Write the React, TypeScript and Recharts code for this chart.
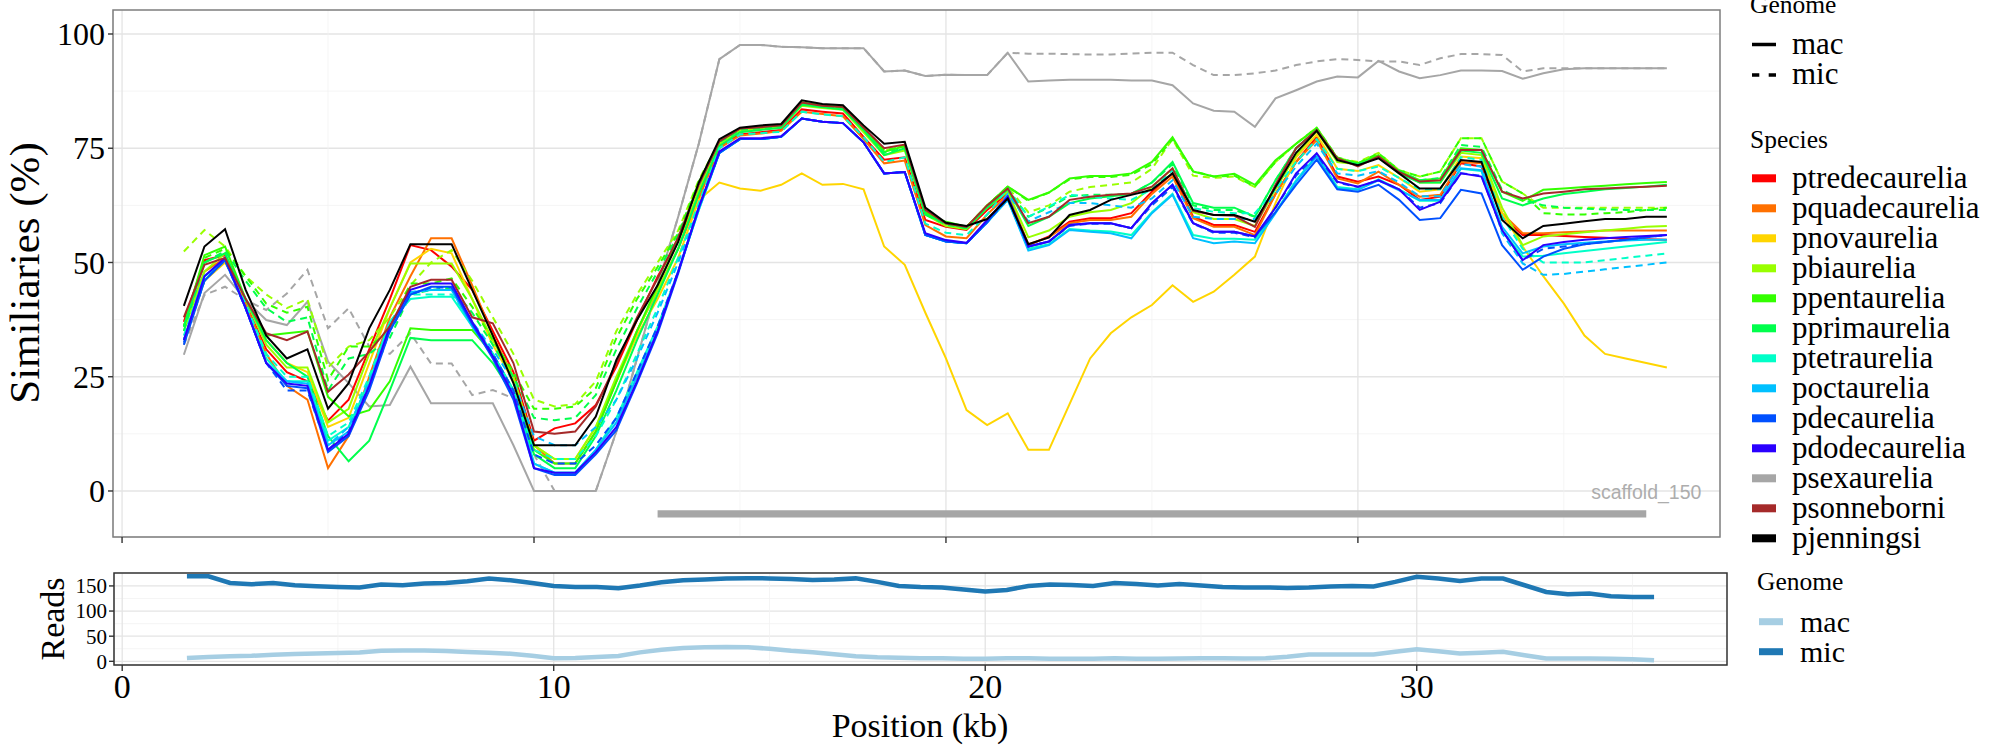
import React from "react";
import {
  LineChart,
  Line,
  XAxis,
  YAxis,
  CartesianGrid,
  ReferenceArea,
  ReferenceLine,
  ReferenceDot,
} from "recharts";

const FONT = "'Liberation Serif', 'Times New Roman', serif";

// window centres (kb)
const positions = [
  1.5, 2, 2.5, 3, 3.5, 4, 4.5, 5, 5.5, 6, 6.5, 7, 7.5, 8, 8.5, 9, 9.5, 10, 10.5, 11,
  11.5, 12, 12.5, 13, 13.5, 14, 14.5, 15, 15.5, 16, 16.5, 17, 17.5, 18, 18.5, 19, 19.5, 20, 20.5, 21,
  21.5, 22, 22.5, 23, 23.5, 24, 24.5, 25, 25.5, 26, 26.5, 27, 27.5, 28, 28.5, 29, 29.5, 30, 30.5, 31,
  31.5, 32, 32.5, 33, 33.5, 34, 34.5, 35, 35.5, 36, 36.5, 37, 37.5,
];
const readPositions = [
  1.5, 2, 2.5, 3, 3.5, 4, 4.5, 5, 5.5, 6, 6.5, 7, 7.5, 8, 8.5, 9, 9.5, 10, 10.5, 11,
  11.5, 12, 12.5, 13, 13.5, 14, 14.5, 15, 15.5, 16, 16.5, 17, 17.5, 18, 18.5, 19, 19.5, 20, 20.5, 21,
  21.5, 22, 22.5, 23, 23.5, 24, 24.5, 25, 25.5, 26, 26.5, 27, 27.5, 28, 28.5, 29, 29.5, 30, 30.5, 31,
  31.5, 32, 32.5, 33, 33.5, 34, 34.5, 35, 35.5,
];

// similarity (%) - mac genome
const ptredecaureliaMac = [
  37, 50.5, 51.6, 41, 31, 26, 24, 15.4, 20, 31,
  42, 53.8, 52.7, 49.1, 44, 35, 26, 11, 13.7, 14.8,
  18.8, 27.2, 37.4, 46.9, 54.9, 65, 75.5, 78, 78.5, 79,
  83.5, 83, 82.6, 77.5, 72.5, 73, 59.3, 57.8, 57.1, 61.5,
  65.1, 53.8, 55.7, 58.9, 59.7, 59.7, 60.8, 65.5, 69.5, 60,
  58.2, 58.2, 56.7, 65, 72, 77.5, 68.8, 67.7, 68.8, 67,
  63.7, 64.4, 71.7, 71, 60, 56, 56, 55.8, 55.6, 55.4,
  55.2, 55.1, 55,
];
const pquadecaureliaMac = [
  36, 48, 51, 41, 30, 23, 20, 5, 12, 25,
  38, 47, 55.3, 55.3, 45, 34, 25, 10, 6, 6,
  13, 24, 35, 44, 53, 64, 75, 77.8, 78.2, 78.8,
  83, 82.5, 82, 77, 71.7, 72.3, 58.2, 55.7, 55.3, 60.5,
  64.8, 54, 55.5, 58.6, 59.3, 59.3, 60, 65, 68.8, 59.7,
  57.8, 57.8, 56, 65, 72, 76.8, 68.4, 67.3, 69.9, 67,
  64.4, 64.8, 72, 71.7, 60.8, 56.4, 56.4, 56.6, 56.8, 57,
  57, 57, 57,
];
const pnovaureliaMac = [
  33, 46, 50, 42, 33, 28, 26, 14, 16, 28,
  40, 50, 53, 52, 42, 32, 24, 10, 7, 7,
  14, 24, 34, 42, 51, 63.7, 67.5, 66.2, 65.7, 67,
  69.5, 67, 67.2, 66, 53.5, 49.5, 39, 29, 17.7, 14.4,
  17, 9, 9, 19, 29, 34.5, 38, 40.7, 45, 41.4,
  43.6, 47.3, 51.3, 63, 73, 78, 70.5, 70, 71.3, 68.5,
  65.5, 66, 73.2, 72.8, 60.8, 53.5, 47, 41, 34, 30,
  29, 28, 27,
];
const pbiaureliaMac = [
  35, 48, 52, 42, 32, 27, 27, 15, 18, 30,
  40, 49.8, 49.8, 49.8, 42, 33, 25, 10, 7, 7,
  14, 25, 35, 44, 53, 66, 76, 78.8, 79.2, 79.6,
  84.3, 83.8, 83.4, 78.5, 73.5, 74.5, 60.5, 58, 57.3, 62,
  65.5, 55.5, 57, 60, 61, 61.5, 63, 66.5, 70.5, 61,
  59.5, 59.5, 58, 66, 73.5, 78.8, 72, 71.5, 73, 69.8,
  67.5, 67.5, 74, 73.5, 62, 53.8, 55.7, 56.2, 56.6, 57,
  57.4, 57.8, 58,
];
const ppentaureliaMac = [
  36, 51.6, 53.5, 42, 34, 34.5, 35, 20.6, 16.3, 17.7,
  24, 35.6, 35.2, 35.2, 35.2, 30, 22, 9, 6, 6,
  13, 24, 35, 45, 55, 67.5, 76.5, 79.3, 79.6, 80,
  85, 84.4, 84, 79.5, 74.2, 75.5, 60.8, 58.9, 57.8, 62.5,
  66.6, 63.7, 65.3, 68.4, 68.9, 68.9, 69.5, 72, 77.4, 69.9,
  68.8, 69.4, 67, 72.4, 76, 79.4, 72.8, 71.7, 73.5, 70,
  68, 68.4, 75, 74.6, 65.5, 63.5, 65.9, 66.2, 66.5, 66.8,
  67.1, 67.4, 67.6,
];
const pprimaureliaMac = [
  36, 50, 52, 42, 33, 28, 25, 12, 6.5, 11,
  22, 33.5, 33, 33, 33, 28, 21, 8, 5, 5,
  12, 22, 33, 43, 53, 65, 75.5, 78.5, 79, 79.5,
  84.5, 84, 83.5, 79, 73.5, 75, 60.5, 58.5, 57.5, 62,
  66, 58, 60, 63, 64, 64.5, 65, 67.5, 72, 63,
  62, 62, 60, 68, 75, 79, 72.5, 71.5, 73, 69.5,
  67.5, 67.5, 74.5, 74, 64, 62.5, 64, 65, 65.5, 66,
  66.3, 66.6, 67,
];
const ptetraureliaMac = [
  33, 46, 51, 40, 29, 24, 24, 11, 14, 24,
  37, 42, 42.5, 42.5, 36, 30, 22, 6, 4, 4,
  9, 16, 26, 36, 48, 61.5, 74, 77, 77, 77.5,
  81.5, 80.8, 80.5, 76.3, 69.5, 69.8, 56, 54.6, 54.2, 58.8,
  63.7, 53, 54, 57.3, 57, 56.8, 56, 61, 65, 56,
  55.2, 55.2, 55, 61, 68, 73.5, 66.5, 66, 68.2, 66,
  63.5, 63.5, 70.5, 70, 57, 51.3, 51.5, 52, 52.5, 53,
  53.5, 54, 54.5,
];
const poctaureliaMac = [
  33, 47, 50.5, 40, 28, 24, 23.5, 10, 13, 23,
  36, 43.5, 44, 44, 36, 29.5, 21, 6, 4, 4,
  9, 15, 25, 35, 48, 61.5, 74, 77, 77, 77.5,
  81.5, 80.8, 80.5, 76.3, 69.5, 69.8, 56, 54.6, 54.2, 58.8,
  63.7, 52.6, 53.8, 57.1, 56.7, 56.4, 55.3, 60.8, 64.8, 55.3,
  54.2, 54.6, 54.2, 60.8, 67.7, 73.2, 66.2, 65.9, 68, 65.8,
  63.7, 63.7, 70.6, 70.2, 57.8, 52, 53.5, 54, 54.3, 54.6,
  54.8, 55, 55,
];
const pdecaureliaMac = [
  32, 46, 50.5, 40, 28, 23, 22.5, 8.5, 12, 22,
  35, 43, 44.7, 44.7, 36.5, 29, 20, 5, 3.5, 3.5,
  8, 13.3, 23.6, 34.5, 47.6, 62, 74, 77, 77, 77.5,
  81.5, 80.8, 80.5, 76.3, 69.5, 69.8, 56, 54.6, 54.2, 58.8,
  64.4, 53.5, 54.6, 58.2, 58.6, 58.6, 57.5, 63, 67, 58.6,
  56.7, 56.7, 55.7, 61, 67, 72.5, 66, 65.5, 67, 63.7,
  59.3, 59.7, 65.9, 65.1, 53.8, 48.4, 51.3, 53, 54, 54.5,
  55, 55.5, 56,
];
const pdodecaureliaMac = [
  33, 47, 51, 40, 28, 23.5, 23, 9, 12.5, 23,
  36, 44, 45.4, 45.4, 37, 29.5, 21, 5, 4, 4,
  8.5, 14, 24, 35, 48, 62, 74.3, 77.2, 77.2, 77.6,
  81.5, 80.8, 80.5, 76.3, 69.5, 69.8, 56.4, 54.9, 54.3, 59.3,
  64.4, 53.5, 54.6, 58.2, 58.6, 58.6, 57.5, 63, 67, 58.6,
  56.7, 56.7, 55.7, 62, 69.5, 73.9, 67.7, 66.6, 68, 66,
  61.5, 63.3, 69.5, 68.8, 57.1, 50.5, 53.8, 54.5, 55, 55.3,
  55.6, 55.8, 56,
];
const psexaureliaMac = [
  29.8, 43.3, 47.3, 41.8, 37.4, 36.3, 41.4, 28.3, 23.6, 18.5,
  18.8, 27.2, 19.2, 19.2, 19.2, 19.2, 10, 0, 0, 0,
  0, 13, 29, 45, 60, 76, 94.5, 97.6, 97.6, 97.2,
  97.1, 96.9, 96.9, 96.9, 91.8, 92, 90.8, 91.1, 91, 91,
  95.9, 89.6, 89.8, 90, 90, 90, 89.8, 89.8, 88.8, 84.8,
  83.2, 83, 79.7, 85.9, 87.7, 89.6, 90.7, 90.5, 94.1, 91.8,
  90.3, 91, 92, 92, 91.9, 90.2, 91.4, 92.3, 92.5, 92.5,
  92.5, 92.5, 92.5,
];
const psonneborniMac = [
  38, 49.5, 51, 42, 34.5, 33, 34.9, 21.7, 25.5, 30.5,
  36, 44.7, 46.2, 46.2, 38, 36.7, 28, 13, 12.5, 13,
  18.5, 28, 38, 46.5, 55.5, 67, 76.5, 79.3, 79.6, 80,
  85, 84.3, 84, 79.5, 75, 75.8, 61.5, 58.5, 57.8, 62.5,
  66.2, 58.6, 60, 63.7, 64.4, 64.8, 65.1, 66.6, 70.6, 61.3,
  60.4, 60.2, 57.8, 67, 75, 79, 72.8, 71, 73.2, 69.8,
  67.7, 68, 74.6, 74.6, 65.5, 64, 65.1, 65.5, 66, 66.2,
  66.4, 66.6, 66.8,
];
const pjenningsiMac = [
  40.5, 53.5, 57.3, 44, 34, 29, 31, 18, 23.6, 35.6,
  44, 54, 54, 54, 44, 34, 23.6, 10, 10, 10,
  16.3, 28.7, 37.4, 45, 54.5, 67.5, 77, 79.5, 80, 80.3,
  85.5, 84.7, 84.4, 80, 76, 76.4, 62, 58.7, 58, 59.5,
  64, 54, 55.5, 60.4, 61.5, 63.7, 64.8, 65.9, 69.5, 61.5,
  60.4, 60.4, 58.9, 66.5, 74, 78.8, 72.4, 71.3, 72.8, 69.5,
  66.2, 66.2, 72.4, 72, 59.3, 55.3, 58, 58.5, 59, 59.5,
  59.5, 60, 60,
];

// similarity (%) - mic genome
const pbiaureliaMic = [
  52.4, 57.1, 53.5, 47, 43, 40, 42, 27, 31.6, 33,
  38, 45, 50, 52.7, 46, 38, 30, 20, 18.5, 19,
  24, 35, 43, 50, 57, 68, 76.5, 79.3, 79.6, 80,
  85, 84.3, 84, 79.3, 74.5, 75.5, 61, 58.5, 57.8, 62.5,
  66.5, 61, 62.5, 65.5, 66.5, 67, 67.5, 70.5, 77, 69,
  68.5, 68.8, 66.5, 72, 76, 79.5, 72.8, 72, 74, 70.2,
  68.8, 69.9, 77.2, 77.2, 67.7, 65.1, 62, 62, 62, 62,
  62, 62, 62,
];
const ppentaureliaMic = [
  36, 51, 53, 47, 41, 39, 40.3, 24.3, 31.6, 31.6,
  35.2, 45.4, 45.4, 46.5, 40.3, 33, 26, 18, 18, 18.5,
  22.5, 33.5, 42, 49, 56.4, 67.7, 76.5, 79.3, 79.6, 80,
  85, 84.3, 84, 79.5, 74.5, 75.5, 61, 58.7, 57.8, 62.5,
  66.6, 63.5, 65.3, 68.2, 68.7, 68.7, 69.2, 71.5, 77, 70,
  68.8, 69, 66.6, 72, 76, 79.5, 73, 71.7, 73.9, 70.2,
  68.8, 69.9, 77.2, 77.2, 67.7, 65.1, 60.8, 60.5, 60.5, 60.8,
  61, 61.5, 62,
];
const pprimaureliaMic = [
  35, 50, 52.5, 46, 40, 37, 38, 22, 29, 30,
  33.5, 43, 44, 44.5, 39, 32, 25, 16, 15.5, 16,
  21, 31, 40, 48, 56, 67, 76.3, 79, 79.4, 79.8,
  84.7, 84, 83.7, 79, 74, 75, 60.5, 58.3, 57.5, 62,
  66, 60, 62, 64.5, 64.8, 64.8, 65, 67.5, 71.5, 62.5,
  61.5, 61.5, 60, 68, 75, 79, 72.5, 71.5, 73, 70,
  68, 68.5, 75.7, 75.3, 65.9, 63.7, 62.5, 62, 61.8, 61.6,
  61.5, 61.5, 61.5,
];
const ptetraureliaMic = [
  34, 47, 51, 41, 30, 25, 25, 12, 15, 25,
  37, 43, 43, 43, 37, 30, 22, 9, 7, 7,
  12, 20, 30, 40, 51, 63, 75, 78, 78.3, 78.6,
  83, 82.4, 82, 77.5, 72, 73, 58.5, 56.5, 56, 60.5,
  66.2, 60, 62.2, 64.8, 64.4, 64, 63.7, 66, 70.2, 61.9,
  61.1, 60.8, 60.8, 66, 72, 77, 70.5, 70, 71, 68.5,
  66, 66, 73, 72.5, 60, 53, 50, 50, 50, 50.5,
  51, 51.5, 52,
];
const poctaureliaMic = [
  33, 47, 50.5, 40, 28, 24, 23.5, 10, 14, 24,
  36, 43.5, 44, 44, 37, 31, 24, 12, 10, 10,
  14, 20, 29, 39, 50, 62, 74, 77, 77, 77.5,
  81.5, 80.8, 80.5, 76.3, 69.5, 69.8, 56, 54.6, 54.2, 58.8,
  65, 59, 61, 63, 63, 62.5, 62, 64, 68, 60,
  59.5, 59.5, 59.5, 65, 71, 76, 69.5, 69, 70, 67.5,
  64.5, 64.5, 71.5, 71, 56.4, 49.8, 47.3, 47.5, 48, 48.5,
  49, 49.5, 50,
];
const pdecaureliaMic = [
  32.5, 46, 50.5, 40, 28, 22, 22, 9, 13, 23,
  35, 43, 44.5, 44.5, 37, 30, 22, 8, 6, 6,
  10, 16, 26, 36, 48, 62, 74, 77, 77, 77.5,
  81.5, 80.8, 80.5, 76.3, 69.5, 69.8, 56, 54.6, 54.2, 58.8,
  64, 53.5, 54.6, 58, 58.5, 58.5, 57.5, 62.5, 66.5, 58.5,
  56.5, 56.5, 55.5, 62, 69, 73.5, 67.5, 66.5, 68, 66,
  62, 63, 69.5, 69, 57, 50.5, 53, 53.5, 54, 54.5,
  55, 55.5, 56,
];
const psexaureliaMic = [
  32, 42.9, 44.7, 41.8, 39.6, 43.2, 48.4, 35.6, 40, 31.6,
  30, 34.5, 27.9, 27.9, 21, 22.1, 20.3, 8, 0, 0,
  0, 13, 29, 45, 60, 76, 94.5, 97.6, 97.6, 97.2,
  97.1, 96.9, 96.9, 96.9, 91.8, 92, 90.8, 91.1, 91, 91,
  95.9, 95.7, 95.7, 95.6, 95.5, 95.5, 95.7, 95.9, 95.9, 93.2,
  91, 91, 91.4, 92, 93.2, 94, 94.5, 94.3, 94, 94,
  93.2, 94.7, 95.6, 95.6, 95.4, 91.8, 92.5, 92.5, 92.5, 92.5,
  92.5, 92.5, 92.5,
];

// read depth
const readsMac = [
  6.6, 8.5, 10, 11, 13, 14.5, 15.8, 16.5, 17.8, 21,
  21.7, 21.7, 20.4, 18.4, 17.1, 15.1, 11.2, 6, 6.6, 8.5,
  10.5, 17.8, 23, 26.3, 28, 28.5, 28, 25, 21, 18,
  14, 10, 8, 7, 6, 6, 5, 5, 6, 6,
  5, 5, 5, 6, 5, 5, 5.5, 6, 6, 5.5,
  6, 9, 13.6, 13.6, 13.6, 13.6, 19, 24.2, 20, 15.6,
  17, 18.9, 12, 5.6, 5.6, 5.6, 5, 4.3, 2.3,
];
const readsMic = [
  169, 169, 156, 153.3, 156, 151.3, 149.3, 148, 146.7, 152.6,
  151.3, 154.6, 156, 159.2, 164.5, 161.2, 156, 150, 148, 148,
  145.4, 150.7, 157.2, 161.2, 163, 165, 165.5, 165, 164, 162,
  163, 165, 158, 150, 148, 147, 143, 139, 142, 150,
  153, 152, 150, 156, 154, 151, 154, 151, 148, 147,
  147, 146, 147, 149, 150, 149, 158, 168, 164.6, 160,
  164.6, 164.6, 151.3, 138, 133.4, 134.8, 129.5, 128.1, 128.1,
];

const species = [
  "ptredecaurelia", "pquadecaurelia", "pnovaurelia", "pbiaurelia", "ppentaurelia",
  "pprimaurelia", "ptetraurelia", "poctaurelia", "pdecaurelia", "pdodecaurelia",
  "psexaurelia", "psonneborni", "pjenningsi",
];
const speciesColors = [
  "#FF0000", "#FF7000", "#FFD500", "#99FF00", "#33FF00",
  "#00FF4C", "#00FFC8", "#00C0FF", "#0050FF", "#2A00FF",
  "#A6A6A6", "#A52A2A", "#000000",
];
const macValues = [
  ptredecaureliaMac, pquadecaureliaMac, pnovaureliaMac, pbiaureliaMac, ppentaureliaMac,
  pprimaureliaMac, ptetraureliaMac, poctaureliaMac, pdecaureliaMac, pdodecaureliaMac,
  psexaureliaMac, psonneborniMac, pjenningsiMac,
];
const micValues: (number[] | null)[] = [
  null, null, null, pbiaureliaMic, ppentaureliaMic,
  pprimaureliaMic, ptetraureliaMic, poctaureliaMic, pdecaureliaMic, null,
  psexaureliaMic, null, null,
];
const drawOrder = [10, 0, 1, 2, 3, 4, 5, 6, 7, 8, 9, 11, 12];

const topXTicks = [0, 5, 10, 15, 20, 25, 30, 35];
const topYTicks = [0, 12.5, 25, 37.5, 50, 62.5, 75, 87.5, 100];
const readYTicks = [0, 25, 50, 75, 100, 125, 150];

const scaffoldStart = 13;
const scaffoldEnd = 37;
const scaffoldY = -5;
const scaffoldLabelY = -0.3;

const topX: [number, number] = [-0.22, 38.79];
const topY: [number, number] = [-10.07, 105.25];
const readX: [number, number] = [-0.19, 37.19];
const readY: [number, number] = [-7.3, 175.7];

type Series = { key: string; color: string; dashed: boolean; values: number[] };
const topSeries: Series[] = [];
drawOrder.forEach((k) => {
  const mic = micValues[k];
  if (mic) topSeries.push({ key: species[k] + "_mic", color: speciesColors[k], dashed: true, values: mic });
  topSeries.push({ key: species[k] + "_mac", color: speciesColors[k], dashed: false, values: macValues[k] });
});

const topRows = positions.map((x, i) => {
  const row: Record<string, number> = { x };
  topSeries.forEach((s) => {
    row[s.key] = s.values[i];
  });
  return row;
});
const readRows = readPositions.map((x, i) => ({ x, mac: readsMac[i], mic: readsMic[i] }));

const gridLine = (props: any) => {
  const { x1, y1, x2, y2, index } = props;
  const major = index % 2 === 0;
  return (
    <line
      key={`grid-${x1}-${y1}-${index}`}
      x1={x1}
      y1={y1}
      x2={x2}
      y2={y2}
      stroke={major ? "#E4E4E4" : "#F2F2F2"}
      strokeWidth={major ? 1.3 : 0.8}
    />
  );
};

const topXTick = (props: any) => {
  const { x, y, payload } = props;
  if (payload.value % 10 !== 0) return <g />;
  return <line x1={x} y1={y} x2={x} y2={y + 6} stroke="#333" strokeWidth={1.4} />;
};

const topYTick = (props: any) => {
  const { x, y, payload } = props;
  if (payload.value % 25 !== 0) return <g />;
  return (
    <g>
      <line x1={x - 5} y1={y} x2={x} y2={y} stroke="#333" strokeWidth={1.4} />
      <text x={x - 8} y={y} dy="0.35em" textAnchor="end" fontSize={32} fontFamily={FONT} fill="#000">
        {payload.value}
      </text>
    </g>
  );
};

const readXTick = (props: any) => {
  const { x, y, payload } = props;
  if (payload.value % 10 !== 0) return <g />;
  return (
    <g>
      <line x1={x} y1={y} x2={x} y2={y + 6} stroke="#333" strokeWidth={1.4} />
      <text x={x} y={y + 9} dy="0.71em" textAnchor="middle" fontSize={34} fontFamily={FONT} fill="#000">
        {payload.value}
      </text>
    </g>
  );
};

const readYTick = (props: any) => {
  const { x, y, payload } = props;
  if (payload.value % 50 !== 0) return <g />;
  return (
    <g>
      <line x1={x - 5} y1={y} x2={x} y2={y} stroke="#333" strokeWidth={1.4} />
      <text x={x - 7} y={y} dy="0.35em" textAnchor="end" fontSize={21} fontFamily={FONT} fill="#000">
        {payload.value}
      </text>
    </g>
  );
};

export default function App() {
  return (
    <div style={{ position: "absolute", left: 0, top: 0, width: 2000, height: 750, background: "#fff", overflow: "hidden" }}>
      <div style={{ position: "absolute", left: 0, top: 0 }}>
        <LineChart width={1730} height={545} data={topRows} margin={{ top: 10, right: 10, bottom: 0, left: 0 }}>
          <CartesianGrid horizontal={gridLine} vertical={gridLine} />
          <XAxis
            type="number"
            dataKey="x"
            domain={topX}
            ticks={topXTicks}
            interval={0}
            allowDataOverflow
            height={8}
            axisLine={false}
            tickLine={false}
            tickSize={0}
            tickMargin={0}
            tick={topXTick}
          />
          <YAxis
            type="number"
            domain={topY}
            ticks={topYTicks}
            interval={0}
            allowDataOverflow
            width={113}
            axisLine={false}
            tickLine={false}
            tickSize={0}
            tickMargin={0}
            tick={topYTick}
          />
          <ReferenceLine
            segment={[
              { x: scaffoldStart, y: scaffoldY },
              { x: scaffoldEnd, y: scaffoldY },
            ]}
            stroke="#A6A6A6"
            strokeWidth={7.3}
          />
          {topSeries.map((s) => (
            <Line
              key={s.key}
              type="linear"
              dataKey={s.key}
              stroke={s.color}
              strokeWidth={2}
              strokeDasharray={s.dashed ? "7 5" : undefined}
              dot={false}
              activeDot={false}
              isAnimationActive={false}
            />
          ))}
          <ReferenceDot
            x={scaffoldEnd}
            y={scaffoldLabelY}
            r={0}
            fill="none"
            stroke="none"
            label={{
              value: "scaffold_150",
              position: "center",
              fill: "#ADADAD",
              fontSize: 19.5,
              fontFamily: "'Liberation Sans', Arial, sans-serif",
            }}
          />
          <ReferenceArea
            x1={topX[0]}
            x2={topX[1]}
            y1={topY[0]}
            y2={topY[1]}
            fill="none"
            stroke="#7F7F7F"
            strokeWidth={1.5}
            ifOverflow="visible"
          />
        </LineChart>
      </div>

      <div style={{ position: "absolute", left: 0, top: 560 }}>
        <LineChart width={1737} height={150} data={readRows} margin={{ top: 13, right: 10, bottom: 0, left: 0 }}>
          <CartesianGrid horizontal={gridLine} vertical={gridLine} />
          <XAxis
            type="number"
            dataKey="x"
            domain={readX}
            ticks={topXTicks}
            interval={0}
            allowDataOverflow
            height={45}
            axisLine={false}
            tickLine={false}
            tickSize={0}
            tickMargin={0}
            tick={readXTick}
          />
          <YAxis
            type="number"
            domain={readY}
            ticks={readYTicks}
            interval={0}
            allowDataOverflow
            width={114}
            axisLine={false}
            tickLine={false}
            tickSize={0}
            tickMargin={0}
            tick={readYTick}
          />
          <Line type="linear" dataKey="mac" stroke="#A6CEE3" strokeWidth={4.5} dot={false} activeDot={false} isAnimationActive={false} />
          <Line type="linear" dataKey="mic" stroke="#1F78B4" strokeWidth={4.5} dot={false} activeDot={false} isAnimationActive={false} />
          <ReferenceArea
            x1={readX[0]}
            x2={readX[1]}
            y1={readY[0]}
            y2={readY[1]}
            fill="none"
            stroke="#333333"
            strokeWidth={1.5}
            ifOverflow="visible"
          />
        </LineChart>
      </div>

      <svg
        width={2000}
        height={750}
        style={{ position: "absolute", left: 0, top: 0, pointerEvents: "none" }}
        fontFamily={FONT}
      >
        <text transform="translate(39, 273) rotate(-90)" textAnchor="middle" fontSize={43} fill="#000">
          Similiaries (%)
        </text>
        <text transform="translate(64, 619) rotate(-90)" textAnchor="middle" fontSize={34} fill="#000">
          Reads
        </text>
        <text x={920} y={737} textAnchor="middle" fontSize={34} fill="#000">
          Position (kb)
        </text>

        <text x={1750} y={13} fontSize={25.5} fill="#000">Genome</text>
        <line x1={1752} y1={44.5} x2={1776} y2={44.5} stroke="#000" strokeWidth={3.5} />
        <text x={1792} y={54} fontSize={31} fill="#000">mac</text>
        <line x1={1752} y1={75} x2={1776} y2={75} stroke="#000" strokeWidth={3.5} strokeDasharray="7.3 9.4" />
        <text x={1792} y={84} fontSize={31} fill="#000">mic</text>

        <text x={1750} y={148} fontSize={25.5} fill="#000">Species</text>
        {species.map((s, k) => (
          <g key={s}>
            <rect x={1752} y={174.3 + 30 * k} width={24} height={8} fill={speciesColors[k]} />
            <text x={1792} y={188.3 + 30 * k} fontSize={31} fill="#000">{s}</text>
          </g>
        ))}

        <text x={1757} y={590} fontSize={25.5} fill="#000">Genome</text>
        <rect x={1759} y={618.2} width={24} height={7} fill="#A6CEE3" />
        <text x={1800} y={631.7} fontSize={30} fill="#000">mac</text>
        <rect x={1759} y={648.2} width={24} height={7} fill="#1F78B4" />
        <text x={1800} y={661.7} fontSize={30} fill="#000">mic</text>
      </svg>
    </div>
  );
}
